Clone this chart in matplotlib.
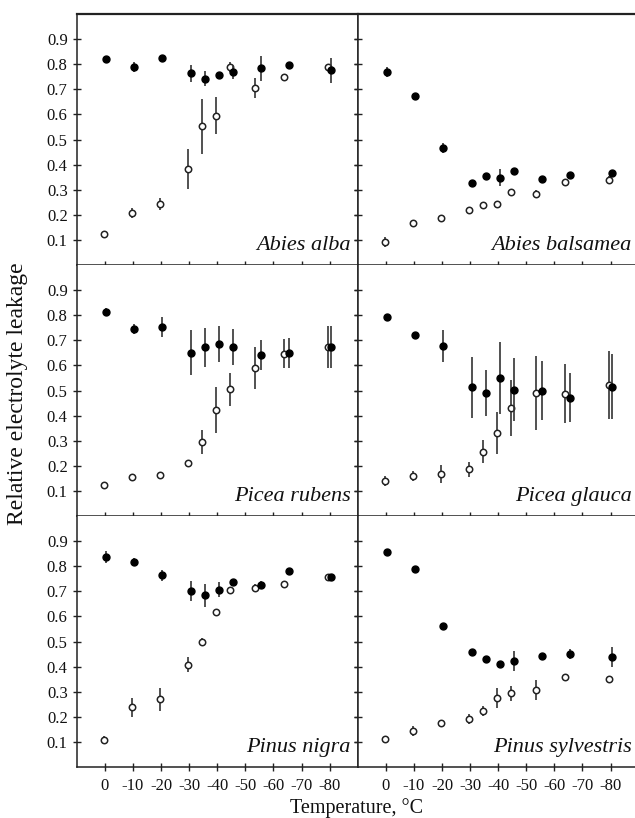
import numpy as np
import matplotlib.pyplot as plt

plt.rcParams['font.family'] = ['Liberation Serif', 'DejaVu Serif']
plt.rcParams['axes.unicode_minus'] = False

# temperatures (degrees C) for the two series
t_open = [0, -10, -20, -30, -35, -40, -45, -54, -64, -80]
t_filled = [0, -10, -20, -30, -35, -40, -45, -55, -65, -80]

species = ['Abies alba', 'Abies balsamea', 'Picea rubens',
           'Picea glauca', 'Pinus nigra', 'Pinus sylvestris']

# filled circles (mean, error)
filled_y = {
    'Abies alba': [0.819, 0.789, 0.824, 0.763, 0.743, 0.757, 0.767, 0.783, 0.797, 0.776],
    'Abies balsamea': [0.769, 0.672, 0.468, 0.328, 0.356, 0.348, 0.373, 0.343, 0.360, 0.365],
    'Picea rubens': [0.812, 0.745, 0.754, 0.651, 0.672, 0.685, 0.673, 0.643, 0.651, 0.673],
    'Picea glauca': [0.793, 0.721, 0.678, 0.512, 0.490, 0.550, 0.503, 0.499, 0.472, 0.515],
    'Pinus nigra': [0.836, 0.816, 0.763, 0.703, 0.684, 0.707, 0.736, 0.727, 0.780, 0.758],
    'Pinus sylvestris': [0.857, 0.790, 0.561, 0.459, 0.431, 0.411, 0.421, 0.444, 0.451, 0.439],
}
filled_err = {
    'Abies alba': [0.008, 0.02, 0.008, 0.035, 0.03, 0.01, 0.025, 0.05, 0.01, 0.05],
    'Abies balsamea': [0.02, 0.01, 0.02, 0.01, 0.01, 0.035, 0.01, 0.01, 0.01, 0.015],
    'Picea rubens': [0.015, 0.02, 0.04, 0.09, 0.077, 0.071, 0.071, 0.06, 0.06, 0.083],
    'Picea glauca': [0.01, 0.01, 0.063, 0.122, 0.092, 0.145, 0.125, 0.117, 0.098, 0.13],
    'Pinus nigra': [0.025, 0.015, 0.02, 0.04, 0.046, 0.03, 0.01, 0.015, 0.01, 0.01],
    'Pinus sylvestris': [0.008, 0.008, 0.008, 0.008, 0.008, 0.008, 0.04, 0.008, 0.02, 0.04],
}

# open circles (mean, error)
open_y = {
    'Abies alba': [0.122, 0.209, 0.243, 0.383, 0.553, 0.595, 0.789, 0.705, 0.749, 0.787],
    'Abies balsamea': [0.092, 0.167, 0.187, 0.220, 0.239, 0.243, 0.292, 0.283, 0.332, 0.339],
    'Picea rubens': [0.124, 0.157, 0.164, 0.213, 0.294, 0.422, 0.504, 0.589, 0.646, 0.673],
    'Picea glauca': [0.138, 0.158, 0.169, 0.186, 0.256, 0.331, 0.429, 0.490, 0.487, 0.523],
    'Pinus nigra': [0.109, 0.238, 0.269, 0.408, 0.499, 0.617, 0.704, 0.715, 0.731, 0.758],
    'Pinus sylvestris': [0.112, 0.144, 0.174, 0.192, 0.225, 0.275, 0.293, 0.305, 0.359, 0.352],
}
open_err = {
    'Abies alba': [0.008, 0.02, 0.025, 0.08, 0.109, 0.075, 0.02, 0.04, 0.01, 0.01],
    'Abies balsamea': [0.02, 0.008, 0.008, 0.008, 0.008, 0.008, 0.008, 0.015, 0.01, 0.015],
    'Picea rubens': [0.008, 0.008, 0.008, 0.008, 0.048, 0.092, 0.067, 0.085, 0.058, 0.085],
    'Picea glauca': [0.02, 0.02, 0.036, 0.03, 0.046, 0.084, 0.111, 0.148, 0.117, 0.135],
    'Pinus nigra': [0.015, 0.037, 0.046, 0.03, 0.015, 0.008, 0.01, 0.015, 0.008, 0.008],
    'Pinus sylvestris': [0.008, 0.02, 0.008, 0.02, 0.02, 0.04, 0.03, 0.04, 0.008, 0.008],
}

xticks = [0, -10, -20, -30, -40, -50, -60, -70, -80]
yticks = [0.1, 0.2, 0.3, 0.4, 0.5, 0.6, 0.7, 0.8, 0.9]

W, H = 635, 818
fig = plt.figure(figsize=(W / 100, H / 100), dpi=100)

left, top = 76.7, 14.0
pw, ph = 281.0, 251.0
ink = '#222222'

for i, sp in enumerate(species):
    row, col = divmod(i, 2)
    x0 = left + col * pw
    y0 = top + (row + 1) * ph
    ax = fig.add_axes([x0 / W, 1 - y0 / H, pw / W, ph / H])

    xo = np.array(t_open) + 0.4
    xf = np.array(t_filled) - 0.5
    ax.errorbar(xo, open_y[sp], yerr=open_err[sp], fmt='o', ms=4.6,
                mfc='white', mec=ink, mew=1.1, ecolor='#333333',
                elinewidth=1.2, capsize=0, zorder=3)
    ax.errorbar(xf, filled_y[sp], yerr=filled_err[sp], fmt='o', ms=5.0,
                mfc='black', mec='black', ecolor='#333333',
                elinewidth=1.2, capsize=0, zorder=4)

    ax.set_xlim(10, -90)
    ax.set_ylim(0, 1.0)
    ax.set_xticks(xticks)
    ax.set_yticks(yticks)
    ax.tick_params(direction='inout', length=6, width=1.0, color=ink,
                   labelsize=12, labelcolor='#111111')
    ax.tick_params(axis='y', right=(col == 0))
    if row == 2:
        ax.set_xticklabels([str(t) for t in xticks])
        ax.tick_params(axis='x', pad=5)
    else:
        ax.set_xticklabels([])
    if col == 0:
        ax.set_yticklabels(['%.1f' % v for v in yticks])
    else:
        ax.set_yticklabels([])
        ax.spines['right'].set_visible(False)

    for s in ax.spines.values():
        s.set_color(ink)
        s.set_linewidth(1.1)
    ax.spines['top'].set_visible(row == 0)
    if row == 0:
        ax.spines['top'].set_linewidth(1.6)

    ax.text(0.975, 0.04, sp, transform=ax.transAxes, ha='right',
            va='bottom', style='italic', fontsize=16, color='#111111')

fig.text(18 / W, 1 - 394 / H, 'Relative electrolyte leakage', rotation=90,
         ha='center', va='center', fontsize=17, color='#111111')
fig.text(357 / W, 1 - 808 / H, 'Temperature, \u00b0C', ha='center',
         va='center', fontsize=14.5, color='#111111')

fig.savefig('out.png', dpi=100)
